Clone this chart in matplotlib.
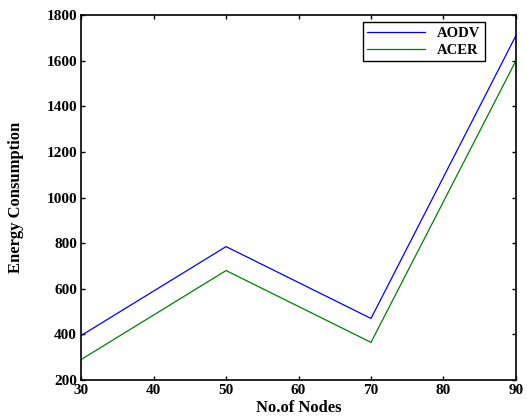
import matplotlib.pyplot as plt

plt.rcParams['font.family'] = 'Liberation Serif'
plt.rcParams['font.weight'] = 'bold'

# === data ===
nodes = [30, 50, 70, 90]
aodv = [395, 785, 470, 1710]
acer = [290, 680, 365, 1600]

x_ticks = [30, 40, 50, 60, 70, 80, 90]
y_ticks = [200, 400, 600, 800, 1000, 1200, 1400, 1600, 1800]

# === plot ===
fig = plt.figure(figsize=(5.27, 4.19), dpi=100)
ax = fig.add_axes([0.154, 0.093, 0.825, 0.871])

ax.plot(nodes, aodv, color="blue", linewidth=0.9, label="AODV")
ax.plot(nodes, acer, color="green", linewidth=0.9, label="ACER")

ax.set_xlim(30, 90)
ax.set_ylim(200, 1800)
ax.set_xticks(x_ticks)
ax.set_yticks(y_ticks)
ax.tick_params(direction="in", top=True, right=True, length=3, width=1, labelsize=11, pad=3)
for s in ax.spines.values():
    s.set_linewidth(1.2)

ax.set_xlabel("No.of Nodes", fontsize=12, fontweight="bold", labelpad=2)
ax.set_ylabel("Energy Consumption", fontsize=12, fontweight="bold", labelpad=16)

leg = ax.legend(loc="upper right", bbox_to_anchor=(0.945, 1.0), fancybox=False,
                edgecolor="black", framealpha=1, fontsize=10.5, handlelength=4.0,
                borderpad=0.3, labelspacing=0.25)
leg.get_frame().set_linewidth(1.0)

fig.savefig("out.png", dpi=100)
